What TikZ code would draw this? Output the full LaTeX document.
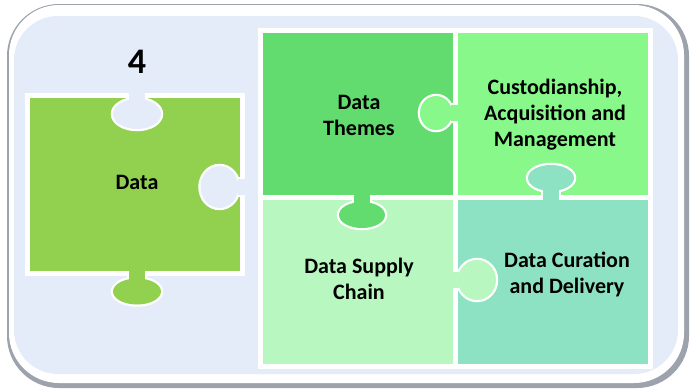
\documentclass[tikz,border=0pt]{standalone}
\usepackage{fontspec}
\setmainfont{Carlito}
\usepackage{tikz}
\usetikzlibrary{positioning}

\definecolor{framegray}{HTML}{9DA3AD}
\definecolor{framebg}{HTML}{E4ECFA}
\definecolor{datagreen}{HTML}{92D050}
\definecolor{themegreen}{HTML}{62DC6E}
\definecolor{custgreen}{HTML}{88F88A}
\definecolor{supplygreen}{HTML}{B8F8C0}
\definecolor{curgreen}{HTML}{8EE2C4}

% colour, edge x, edge y, direction, neck, depth radius, side radius
\newcommand{\puzknob}[7]{%
  \begin{scope}[shift={(#2,#3)},rotate=#4]
    \draw[knobline] (0,-8) rectangle (#5,8);
    \draw[knobline] (#5+#6,0) ellipse [x radius=#6, y radius=#7];
    \fill[#1] (-4,-8) rectangle (#5+1,8);
    \fill[#1] (#5+#6,0) ellipse [x radius=#6, y radius=#7];
  \end{scope}}

\begin{document}
\begin{tikzpicture}[
    x=1pt, y=-1pt,
    piece/.style={draw=white, line width=5pt},
    knobline/.style={draw=white, line width=4.5pt},
    every node/.style={
        font=\fontsize{22}{26}\selectfont\bfseries,
        align=center,
        inner sep=0pt
    }
]
\useasboundingbox (0,0) rectangle (691,389);
\fill[framegray, rounded corners=52pt] (7,4) rectangle (689,388);
\fill[white, rounded corners=50pt] (9,5) rectangle (684,383);
\fill[framebg, rounded corners=44pt] (14,16) rectangle (678,374);

\filldraw[piece, fill=datagreen] (27.5,95) rectangle (242.5,273.5);
\filldraw[piece, fill=themegreen] (260,30) rectangle (455,197);
\filldraw[piece, fill=custgreen] (455,30) rectangle (650,197);
\filldraw[piece, fill=supplygreen] (260,197) rectangle (455,366.5);
\filldraw[piece, fill=curgreen] (455,197) rectangle (650,366.5);

\puzknob{framebg}{137}{95}{-90}{4}{15}{24}
\puzknob{framebg}{242.5}{187}{180}{4}{19}{21}
\puzknob{datagreen}{137}{273.5}{-90}{5}{13}{24}
\puzknob{custgreen}{455}{113}{180}{3}{16}{17}
\puzknob{themegreen}{362}{197}{-90}{5}{13}{23}
\puzknob{supplygreen}{455}{280}{0}{3}{19}{20}
\puzknob{curgreen}{551}{197}{90}{6}{13}{23}

\node[font=\fontsize{36}{40}\selectfont\bfseries] (four) at (137,62) {4};
\node (data) at (137,182) {Data};
\node (themes) at (359,115) {Data\\Themes};
\node (cust) at (555,115) {Custodianship,\\Acquisition and\\Management};
\node (supply) at (359,279) {Data Supply\\Chain};
\node (curation) at (567,274) {Data Curation\\and Delivery};
\end{tikzpicture}
\end{document}
